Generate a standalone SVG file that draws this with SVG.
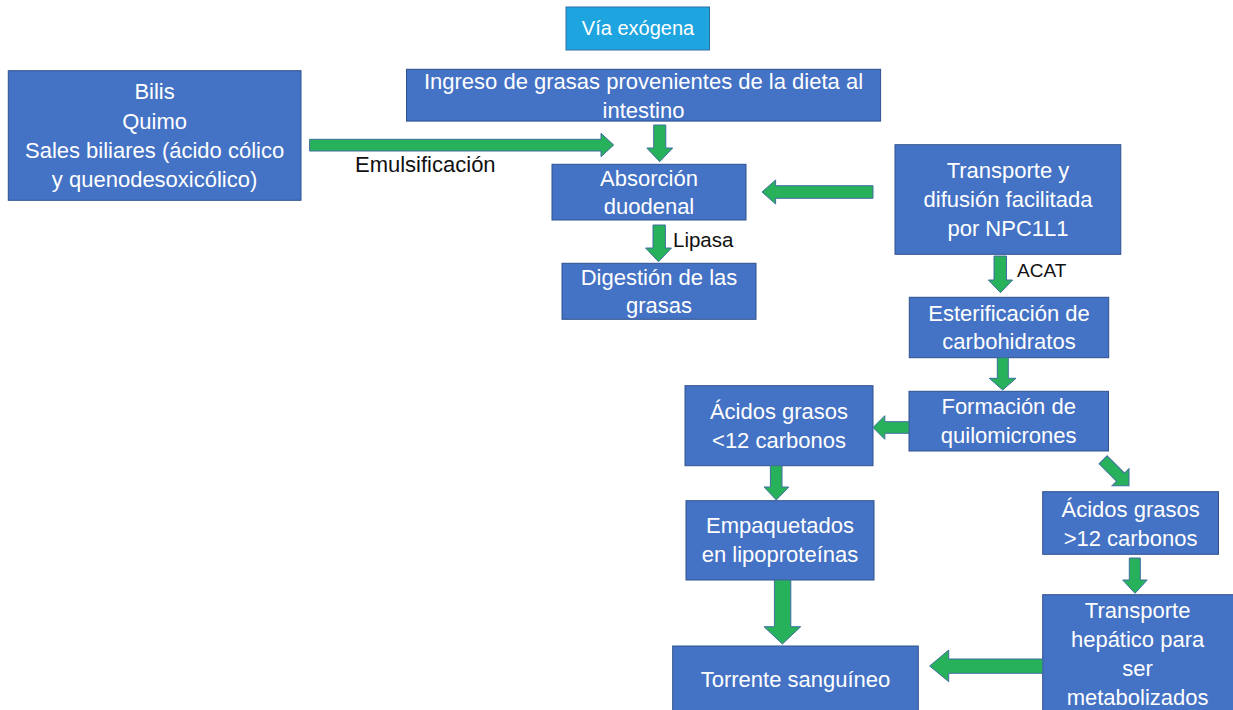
<svg xmlns="http://www.w3.org/2000/svg" width="1233" height="710" viewBox="0 0 1233 710">
<style>
.box{fill:#4472c4;stroke:#2f528f;stroke-width:1}
.title{fill:#1ea4de;stroke:#2f6fa8;stroke-width:1}
.t{font-family:"Liberation Sans",Arial,sans-serif;font-size:22px;fill:#ffffff;text-anchor:middle}
.lbl{font-family:"Liberation Sans",Arial,sans-serif;fill:#111111}
.arr{fill:#27b15a;stroke:#3f6fa0;stroke-width:1;stroke-linejoin:miter}
</style>
<rect width="1233" height="710" fill="#ffffff"/>

<g id="via-exogena">
<rect class="title" x="566" y="7" width="143.5" height="43"/>
<text class="t" x="638" y="35" style="font-size:20px">Vía exógena</text>
</g>

<g id="bilis">
<rect class="box" x="8.3" y="70.7" width="292.7" height="129.6"/>
<text class="t" x="154.6" y="99.3">Bilis</text>
<text class="t" x="154.6" y="128.6">Quimo</text>
<text class="t" x="154.6" y="157.9">Sales biliares (ácido cólico</text>
<text class="t" x="154.6" y="187.2">y quenodesoxicólico)</text>
</g>

<g id="ingreso">
<rect class="box" x="406.5" y="69.3" width="474.1" height="51.8"/>
<text class="t" x="643.5" y="89.3">Ingreso de grasas provenientes de la dieta al</text>
<text class="t" x="643.5" y="118.3">intestino</text>
</g>

<g id="absorcion">
<rect class="box" x="552" y="164.3" width="194" height="55.7"/>
<text class="t" x="649" y="185.7">Absorción</text>
<text class="t" x="649" y="214.3">duodenal</text>
</g>

<g id="digestion">
<rect class="box" x="562" y="263.3" width="194" height="56"/>
<text class="t" x="659" y="285">Digestión de las</text>
<text class="t" x="659" y="313.3">grasas</text>
</g>

<g id="transporte-npc1l1">
<rect class="box" x="895" y="144.7" width="225.8" height="109.6"/>
<text class="t" x="1008" y="177.7">Transporte y</text>
<text class="t" x="1008" y="206.7">difusión facilitada</text>
<text class="t" x="1008" y="235.7">por NPC1L1</text>
</g>

<g id="esterificacion">
<rect class="box" x="909.3" y="297.3" width="199.4" height="60.4"/>
<text class="t" x="1009" y="320.7">Esterificación de</text>
<text class="t" x="1009" y="349.3">carbohidratos</text>
</g>

<g id="formacion">
<rect class="box" x="909" y="391.3" width="199.5" height="59.7"/>
<text class="t" x="1008.7" y="414.3">Formación de</text>
<text class="t" x="1008.7" y="442.7">quilomicrones</text>
</g>

<g id="acidos-menor12">
<rect class="box" x="685" y="385.7" width="188" height="80"/>
<text class="t" x="779" y="419">Ácidos grasos</text>
<text class="t" x="779" y="448.3">&lt;12 carbonos</text>
</g>

<g id="empaquetados">
<rect class="box" x="686" y="500.7" width="188" height="79.3"/>
<text class="t" x="780" y="533.3">Empaquetados</text>
<text class="t" x="780" y="562.3">en lipoproteínas</text>
</g>

<g id="acidos-mayor12">
<rect class="box" x="1042.7" y="491.7" width="175.8" height="62.6"/>
<text class="t" x="1130.6" y="516.7">Ácidos grasos</text>
<text class="t" x="1130.6" y="545.7">&gt;12 carbonos</text>
</g>

<g id="transporte-hepatico">
<rect class="box" x="1042.7" y="594.7" width="195" height="120"/>
<text class="t" x="1137.6" y="618.3">Transporte</text>
<text class="t" x="1137.6" y="647.3">hepático para</text>
<text class="t" x="1137.6" y="676">ser</text>
<text class="t" x="1137.6" y="705">metabolizados</text>
</g>

<g id="torrente">
<rect class="box" x="672.7" y="646" width="245.6" height="70"/>
<text class="t" x="795.5" y="686.7">Torrente sanguíneo</text>
</g>

<g id="connectors">
<path class="arr" d="M309.6,139.3 H601 V133.3 L613.7,145 L601,156.7 V151 H309.6 Z"/>
<text class="lbl" x="355" y="171.7" font-size="22">Emulsificación</text>
<path class="arr" d="M653.7,125 H665.8 V148 H672.7 L659.7,161.7 L646.8,148 H653.7 Z"/>
<path class="arr" d="M873,185.7 H775.6 V180 L762,192 L775.6,204 V198.3 H873 Z"/>
<path class="arr" d="M653,225 H665.4 V248 H671.5 L658.5,261.7 L645.6,248 H653 Z"/>
<text class="lbl" x="673" y="246.7" font-size="20.5">Lipasa</text>
<path class="arr" d="M994,256 H1006.5 V280 H1012.6 L1000.5,292.7 L988.4,280 H994 Z"/>
<text class="lbl" x="1017" y="276.7" font-size="19">ACAT</text>
<path class="arr" d="M997.3,357.7 H1008.3 V378.3 H1016 L1002.7,390 L989.3,378.3 H997.3 Z"/>
<path class="arr" d="M909,421.7 H884.8 V415.7 L873,427.5 L884.8,439.3 V433.3 H909 Z"/>
<path class="arr" d="M770.4,465.7 H782 V487 H788.7 L776.3,500 L764,487 H770.4 Z"/>
<path class="arr" d="M774.4,580 H790.8 V626.7 H800.7 L782.4,644 L764,626.7 H774.4 Z"/>
<path class="arr" transform="translate(1129,485.7) rotate(45)" d="M-36.6,-5.7 H-12 V-12 L0,0 L-12,12 V5.7 H-36.6 Z"/>
<path class="arr" d="M1129.3,558 H1140.3 V580 H1147.2 L1135,593.3 L1122.7,580 H1129.3 Z"/>
<path class="arr" d="M1042.7,659 H948.7 V650 L929.7,666 L948.7,681.7 V673.3 H1042.7 Z"/>
</g>
</svg>
